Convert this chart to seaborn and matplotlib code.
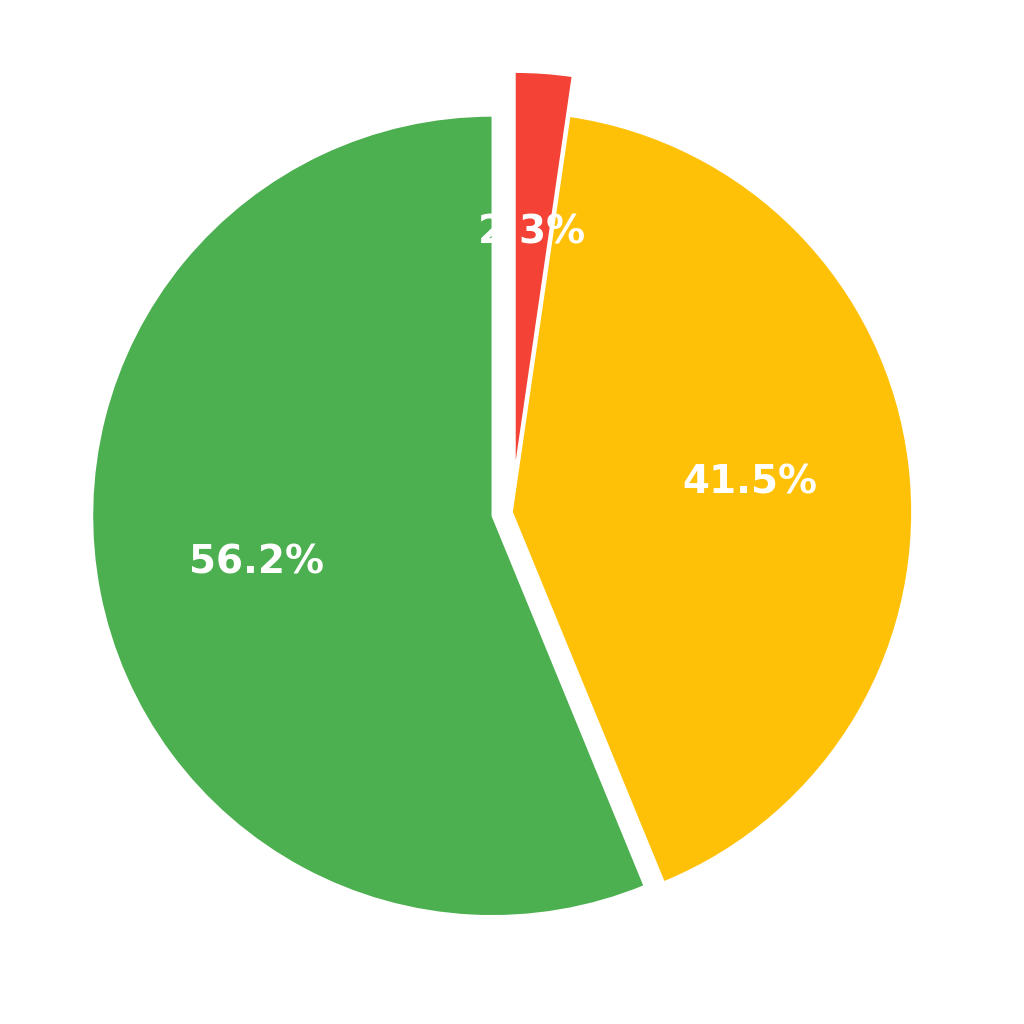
import matplotlib
matplotlib.use("Agg")
import matplotlib.pyplot as plt
import seaborn as sns

# Slice values (percent), drawn counter-clockwise from the top
shares = [56.2, 41.5, 2.3]
slice_colors = ["#4CAF50", "#FFC107", "#F44336"]
explode = [0.05, 0.0, 0.1]

sns.set_style("white")
plt.rcParams['font.family'] = ['DejaVu Sans']

fig = plt.figure(figsize=(10.24, 10.24), dpi=100)
ax = fig.add_axes([12 / 1024, 12 / 1024, 1000 / 1024, 1000 / 1024])

wedges, texts, autotexts = ax.pie(
    shares,
    colors=slice_colors,
    explode=explode,
    startangle=90,
    counterclock=True,
    autopct='%1.1f%%',
    pctdistance=0.6,
    wedgeprops=dict(edgecolor='white', linewidth=1.2),
    textprops=dict(color='white', fontsize=28, fontweight='bold'),
)
ax.set_aspect('equal')

fig.savefig('out.png', dpi=100, facecolor='white')
